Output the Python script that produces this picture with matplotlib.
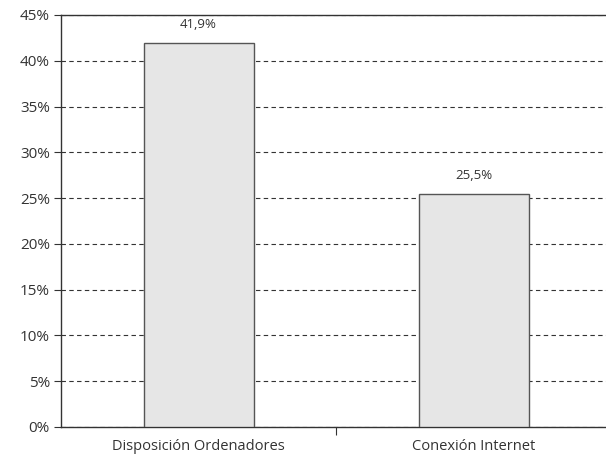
import matplotlib
matplotlib.use('Agg')
import matplotlib.pyplot as plt

categories = ['Disposición Ordenadores', 'Conexión Internet']
values = [41.9, 25.5]
value_labels = ['41,9%', '25,5%']
yticks = [0, 5, 10, 15, 20, 25, 30, 35, 40, 45]

plt.rcParams['font.family'] = ['Open Sans', 'DejaVu Sans']

fig = plt.figure(figsize=(6.06, 4.62), dpi=100)
ax = fig.add_axes([61 / 606, 35 / 462, 550 / 606, 412 / 462])

x = [0.5, 1.5]
ax.bar(x, values, width=0.4, color='#e6e6e6', edgecolor='#555555', linewidth=1, zorder=3)
for xi, v, lab in zip(x, values, value_labels):
    ax.text(xi, v + 1.3, lab, ha='center', va='bottom', fontsize=9.5, color='#333333')

ax.set_xlim(0, 2)
ax.set_ylim(0, 45)
ax.set_yticks(yticks)
ax.set_yticklabels([f'{t}%' for t in yticks], fontsize=11, color='#333333')
ax.set_xticks([1])
ax.set_xticklabels([])
ax.set_xticks(x, minor=True)
ax.set_xticklabels(categories, minor=True, fontsize=10.5, color='#333333')
ax.tick_params(axis='x', which='minor', length=0, pad=9)
ax.tick_params(axis='x', which='major', length=6, direction='out', color='#333333')
ax.tick_params(axis='y', length=5, direction='out', color='#333333', pad=3)

ax.yaxis.grid(True, linestyle=(0, (4, 3)), color='#333333', linewidth=0.8)
ax.set_axisbelow(True)

for s in ['left', 'top', 'bottom']:
    ax.spines[s].set_color('#333333')
    ax.spines[s].set_linewidth(1)
ax.spines['right'].set_visible(False)

fig.savefig('out.png', dpi=100)
